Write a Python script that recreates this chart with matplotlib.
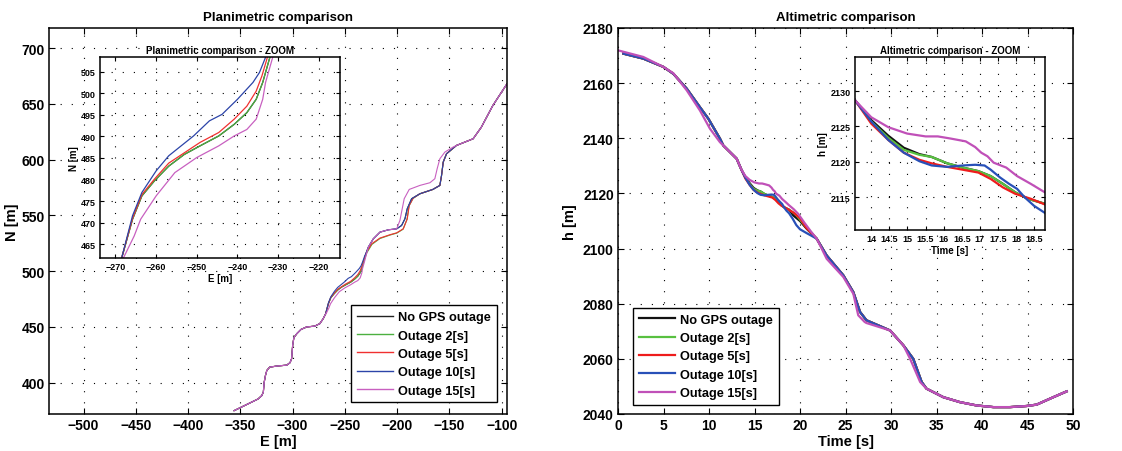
import numpy as np
import matplotlib
matplotlib.use("Agg")
import matplotlib.pyplot as plt

plt.rcParams['font.family'] = ['Liberation Sans', 'DejaVu Sans']
plt.rcParams['font.weight'] = 'bold'
plt.rcParams['axes.titleweight'] = 'bold'
plt.rcParams['axes.labelweight'] = 'bold'

LABELS = ["No GPS outage", "Outage 2[s]", "Outage 5[s]", "Outage 10[s]", "Outage 15[s]"]
COL_L = ["#222222", "#4cb040", "#f03030", "#2c44a8", "#c860c0"]
COL_R = ["#111111", "#58c040", "#ee1c1c", "#2850b8", "#c050b8"]

# ---- planimetric data (E, N in metres) ----
E_base = [-356, -345, -333, -329.5, -328, -327.3, -326, -324.7, -322, -315, -305.6, -302.5, -301, -300, -298.8,
          -296, -292, -286.7, -278.8, -274, -270.8,
          -268.5, -265.8, -263.5, -260.4, -256.9, -253.1, -249.2, -244.6, -240.8, -237.7, -235.4, -233.8, -231.9,
          -230.3, -227.6, -222.9, -216.5, -208.5, -200.5, -195.8, -192.6, -190.4, -186.2, -178.3, -165.9, -159.2,
          -157.6, -156.0, -152.8, -143.4, -127.4, -119.6, -108.5, -95]
N_base = [375, 380, 385.5, 388.5, 391.7, 400, 406.5, 411, 414, 415, 415.8, 418, 421.5, 433.4, 440.5,
          444, 447.8, 450, 450.8, 453, 457.4,
          461.7, 470.8, 476.2, 479.7, 483.1, 485.8, 487.8, 490.1, 492.8, 495.5, 498.6, 502.5, 508.8,
          515, 521.6, 529, 535, 537.1, 538, 541, 547, 556, 565, 569.4, 573.3, 576.9,
          585.8, 597.8, 605.3, 612.7, 618.7, 629, 648.6, 668]

E_out2 = [-231.9, -229.0, -224.2, -216.5, -206.9, -200.5, -194.4, -190.6, -188.7, -184.9]
N_out2 = [508.8, 516.6, 524.0, 529.3, 532.4, 534.1, 537.6, 546.5, 558.5, 565.2]

E_out5 = [-268.5, -265.8, -263.5, -260.4, -256.9, -249.2, -244.6, -240.8, -237.7, -235.4, -234.0, -232.5,
          -229.2, -224.4, -216.5, -206.9, -200.5, -194.2, -190.4, -188.5, -184.7]
N_out5 = [461.7, 471.0, 476.5, 480.1, 483.8, 488.6, 490.9, 494.0, 497.0, 500.5, 504.0, 508.8,
          517.2, 524.6, 529.7, 532.7, 534.4, 538.0, 547.0, 558.9, 565.5]

E_out10 = [-268.5, -265.8, -263.5, -260.0, -256.9, -250.8, -246.9, -243.8, -240.0, -236.2, -234.6, -232.9, -231.0]
N_out10 = [461.7, 471.6, 477.0, 482.0, 485.5, 490.1, 493.6, 495.1, 498.6, 502.5, 504.8, 508.8, 514]

E_out15a = [-268.1, -265.4, -263.8, -260.0, -255.4, -250.0, -244.6, -240.8, -237.7, -235.4, -233.8, -233.1,
            -231.2, -229.8]
N_out15a = [461.7, 466.9, 470.8, 476.2, 481.6, 485.1, 487.8, 490.1, 491.6, 494.0, 498.6, 502.5, 508.8, 514]
E_out15b = [-200.5, -197.4, -195.2, -193.3, -188.5, -178.3, -168.7, -164.0, -161.8, -159.2, -154.4, -146.5]
N_out15b = [538, 545.5, 556, 565, 573.3, 576.9, 579.3, 582.9, 591.8, 600.8, 606.8, 611.3]

# ---- altimetric data (time s, height m) ----
t_black = [0.59, 2.78, 4.98, 6.08, 7.55, 9.0, 9.93, 11.2, 11.57, 13.04, 13.55, 14.0, 14.47, 14.9, 15.33, 15.67,
           16.1, 16.53, 16.96, 17.3, 17.64, 17.98, 18.33, 18.8, 19.27, 20.0, 20.73, 21.83, 22.93, 24.76, 25.86,
           26.6, 27.3, 29.9, 31.36, 32.45, 33.37, 33.9, 35.75, 37.58, 39.41, 41.25, 43.08, 44.9, 46.0, 47.84, 49.3]
h_black = [2170.7, 2168.9, 2165.9, 2163.4, 2158.0, 2151.3, 2147.1, 2139.9, 2137.4, 2132.6, 2128.7, 2125.9, 2123.7,
           2122.0, 2121.1, 2120.7, 2119.8, 2119.2, 2118.7, 2118.0, 2116.9, 2115.7, 2114.8, 2114.1, 2112.0, 2110.0,
           2107.2, 2103.6, 2097.5, 2090.3, 2084.2, 2077.0, 2074.0, 2070.3, 2064.9, 2060.0, 2051.6, 2049.2, 2046.1,
           2044.3, 2043.1, 2042.5, 2042.5, 2042.9, 2043.4, 2046.1, 2048.2]

t_out2 = [13.55, 14.0, 14.47, 14.9, 15.33, 15.67, 16.1, 16.53, 16.96, 17.3, 17.64, 17.98, 18.33, 18.8, 19.5, 20.5, 21.83]
h_out2 = [2128.7, 2125.7, 2123.4, 2121.7, 2121.0, 2120.7, 2119.8, 2119.2, 2118.7, 2118.0, 2116.9, 2115.7, 2114.8,
          2114.1, 2112.5, 2108.5, 2103.6]

t_out5 = [13.55, 14.0, 14.47, 14.9, 15.33, 15.67, 16.1, 16.53, 16.96, 17.3, 17.64, 17.98, 18.41, 18.8, 19.3, 20.0,
          20.7, 21.83]
h_out5 = [2128.7, 2125.4, 2123.1, 2121.3, 2120.3, 2119.8, 2119.3, 2118.9, 2118.5, 2117.6, 2116.4, 2115.5, 2114.8,
          2114.0, 2113.0, 2111.0, 2107.5, 2103.6]

t_out10 = [13.55, 14.0, 14.47, 14.9, 15.33, 15.67, 16.1, 16.53, 16.87, 17.13, 17.3, 17.56, 17.81, 18.03, 18.24, 18.5,
           18.8, 19.2, 19.6, 20.0, 20.73, 21.83]
h_out10 = [2128.7, 2125.7, 2123.1, 2121.3, 2120.1, 2119.5, 2119.3, 2119.5, 2119.6, 2119.5, 2118.9, 2117.8, 2116.9,
           2116.2, 2115.0, 2113.8, 2112.8, 2110.8, 2108.5, 2107.0, 2105.6, 2103.6]

t_out15a = [0.0, 2.78, 4.98, 6.08, 7.55, 9.0, 10.1, 11.2, 13.04, 13.55]
h_out15a = [2171.9, 2169.5, 2165.9, 2163.6, 2157.4, 2150.1, 2143.5, 2138.6, 2132.6, 2128.7]
t_out15b = [13.55, 14.0, 14.47, 14.99, 15.5, 15.84, 16.19, 16.61, 16.87, 17.04, 17.21, 17.38, 17.73, 18.03, 18.41,
            18.8, 19.3, 19.8, 20.5, 21.2, 21.83, 22.2, 22.93, 24.76, 25.86, 26.4, 27.1, 27.3]
h_out15b = [2128.7, 2126.3, 2124.9, 2124.0, 2123.6, 2123.6, 2123.3, 2122.9, 2122.1, 2121.3, 2120.8, 2119.9, 2119.2,
            2118.0, 2116.9, 2115.7, 2114.3, 2112.6, 2109.3, 2106.2, 2103.6, 2101.2, 2096.3, 2089.7, 2083.6, 2075.8,
            2073.4, 2073.0]
t_out15c = [31.36, 32.1, 33.2, 33.9]
h_out15c = [2064.9, 2060.0, 2051.6, 2049.2]


def splice(bx, by, segments):
    # replace the part of the base track covered by each segment
    x, y = list(bx), list(by)
    for sx, sy in segments:
        lo = [(a, b) for a, b in zip(x, y) if a < sx[0]]
        hi = [(a, b) for a, b in zip(x, y) if a > sx[-1]]
        pts = lo + list(zip(sx, sy)) + hi
        x = [p[0] for p in pts]
        y = [p[1] for p in pts]
    return np.array(x), np.array(y)


plan = [
    splice(E_base, N_base, []),
    splice(E_base, N_base, [(E_out2, N_out2)]),
    splice(E_base, N_base, [(E_out5, N_out5)]),
    splice(E_base, N_base, [(E_out10, N_out10)]),
    splice(E_base, N_base, [(E_out15a, N_out15a), (E_out15b, N_out15b)]),
]
alti = [
    splice(t_black, h_black, []),
    splice(t_black, h_black, [(t_out2, h_out2)]),
    splice(t_black, h_black, [(t_out5, h_out5)]),
    splice(t_black, h_black, [(t_out10, h_out10)]),
    splice(t_black, h_black, [(t_out15a, h_out15a), (t_out15b, h_out15b), (t_out15c, h_out15c)]),
]


def style(ax, fs, ticklen=4):
    ax.grid(True, linestyle=(0, (1, 9)), color='k', linewidth=0.8)
    ax.tick_params(direction='in', top=True, right=True, length=ticklen, width=0.8, labelsize=fs, pad=3)
    for s in ax.spines.values():
        s.set_linewidth(1.1)


W, H = 1122, 452
fig = plt.figure(figsize=(W / 100, H / 100), dpi=100)


def px_axes(l, t, r, b):
    return fig.add_axes([l / W, (H - b) / H, (r - l) / W, (b - t) / H])


def add_legend(ax, **kw):
    leg = ax.legend(borderaxespad=0, fontsize=9.2, fancybox=False, edgecolor='k', framealpha=1,
                    handlelength=2.8, handletextpad=0.4, labelspacing=0.5, borderpad=0.45, **kw)
    leg.get_frame().set_linewidth(1.0)
    return leg


# planimetric main
ax1 = px_axes(49, 29, 507, 415)
for (x, y), c, lab in zip(plan, COL_L, LABELS):
    ax1.plot(x, y, color=c, lw=0.8, label=lab)
ax1.set_xlim(-533, -95)
ax1.set_ylim(372, 718)
ax1.set_xticks(np.arange(-500, -99, 50))
ax1.set_yticks(np.arange(400, 701, 50))
style(ax1, 10)
ax1.set_title("Planimetric comparison", fontsize=9.5, pad=6)
ax1.set_xlabel("E [m]", fontsize=10.5, labelpad=1)
ax1.set_ylabel("N [m]", fontsize=10.5, labelpad=2)
leg1 = add_legend(ax1, loc='lower right', bbox_to_anchor=(0.9775, 0.03))
for ln in leg1.get_lines():
    ln.set_linewidth(1.0)

# planimetric zoom
ax1z = px_axes(100, 58, 340, 259)
for (x, y), c in zip(plan, COL_L):
    ax1z.plot(x, y, color=c, lw=0.9)
ax1z.set_xlim(-273.8, -214.8)
ax1z.set_ylim(461.8, 508.4)
ax1z.set_xticks(np.arange(-270, -219, 10))
ax1z.set_yticks(np.arange(465, 506, 5))
style(ax1z, 6.5, ticklen=3)
ax1z.set_title("Planimetric comparison - ZOOM", fontsize=7, pad=3)
ax1z.set_xlabel("E [m]", fontsize=7, labelpad=1)
ax1z.set_ylabel("N [m]", fontsize=7, labelpad=1)

# altimetric main
ax2 = px_axes(618, 29, 1073, 415)
for (x, y), c, lab in zip(alti, COL_R, LABELS):
    ax2.plot(x, y, color=c, lw=1.6, label=lab)
ax2.set_xlim(0, 50)
ax2.set_ylim(2040, 2180)
ax2.set_xticks(np.arange(0, 51, 5))
ax2.set_yticks(np.arange(2040, 2181, 20))
style(ax2, 10)
ax2.set_title("Altimetric comparison", fontsize=9.5, pad=6)
ax2.set_xlabel("Time [s]", fontsize=10.5, labelpad=1)
ax2.set_ylabel("h [m]", fontsize=10.5, labelpad=4)
add_legend(ax2, loc='lower left', bbox_to_anchor=(0.0336, 0.0233))

# altimetric zoom
ax2z = px_axes(855, 58, 1045, 231)
for (x, y), c in zip(alti, COL_R):
    ax2z.plot(x, y, color=c, lw=1.6)
ax2z.set_xlim(13.55, 18.8)
ax2z.set_ylim(2110.4, 2134.8)
xt = np.arange(14, 18.6, 0.5)
ax2z.set_xticks(xt)
ax2z.set_xticklabels(["%g" % v for v in xt])
ax2z.set_yticks(np.arange(2115, 2131, 5))
style(ax2z, 6.5, ticklen=3)
ax2z.set_title("Altimetric comparison - ZOOM", fontsize=7, pad=3)
ax2z.set_xlabel("Time [s]", fontsize=7, labelpad=1)
ax2z.set_ylabel("h [m]", fontsize=7, labelpad=2)

fig.savefig("out.png", dpi=100)
